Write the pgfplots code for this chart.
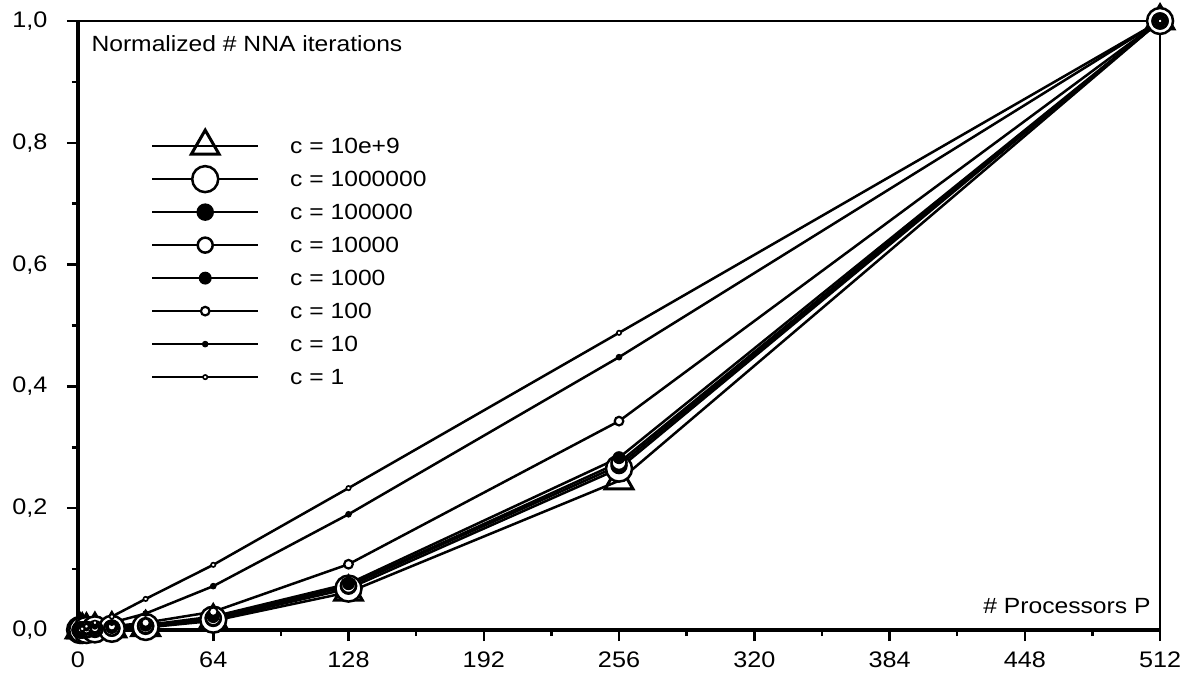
\documentclass[border=0pt]{standalone}
\usepackage{fontspec}
\setmainfont[FakeStretch=1.12]{Liberation Sans}
\usepackage{pgfplots}
\pgfplotsset{compat=1.18}

% normalized NNA iterations per processor count, one column per c
\pgfplotstableread{
P   c9    c6    c5    c4    c3    c2     c1    c0
1   0     0     0     0     0     0      0     0
2   0     0     0     0     0     0.0005 0.001 0.002
4   0     0     0     0.001 0.001 0.001  0.003 0.006
8   0.001 0.001 0.001 0.002 0.002 0.003  0.006 0.012
16  0.002 0.002 0.003 0.003 0.004 0.006  0.012 0.022
32  0.004 0.005 0.006 0.007 0.008 0.012  0.027 0.051
64  0.015 0.017 0.019 0.020 0.022 0.030  0.072 0.107
128 0.062 0.068 0.072 0.073 0.076 0.108  0.190 0.233
256 0.245 0.265 0.270 0.275 0.283 0.343  0.448 0.488
512 1     1     1     1     1     1      1     1
}\nnadata

\begin{document}
\begin{tikzpicture}
\useasboundingbox (-78pt,-47pt) rectangle (1108pt,630pt);
\begin{axis}[
  scale only axis,
  width=1082pt, height=609pt,
  xmin=0, xmax=512, ymin=0, ymax=1,
  clip=false,
  axis x line*=bottom, axis y line*=left,
  axis line style={line width=3.5pt,-},
  xtick={0,64,...,512},
  ytick={0,0.2,...,1.0},
  minor x tick num=1, minor y tick num=1,
  tick align=outside,
  major tick length=11pt, minor tick length=6pt,
  tick style={black,line width=2.5pt},
  tick label style={font=\fontsize{22.5}{26}\selectfont},
  xticklabel style={yshift=-7pt},
  yticklabel style={xshift=-16pt},
  /pgf/number format/assume math mode=true,
  yticklabel={\pgfmathprintnumber[fixed,fixed zerofill,precision=1,use comma]{\tick}},
  xticklabel={\pgfmathprintnumber[fixed,precision=0]{\tick}},
  legend style={at={(axis description cs:0.0684,0.808)},anchor=north west,
    draw=none,fill=none,inner sep=0pt,row sep=17pt,column sep=32pt,
    font=\fontsize{22}{26}\selectfont,
    nodes={inner sep=0pt,text height=15pt,text depth=0pt}},
  legend cell align=left,
  legend image code/.code={
    \path[draw=none,fill=none] (0pt,-8pt) rectangle (106pt,8pt);
    \draw[overlay,mark repeat=2,mark phase=2] plot coordinates {(0pt,0pt) (53pt,0pt) (106pt,0pt)};
  },
  every axis plot/.append style={black,line width=2.5pt},
]
\addplot[mark=triangle,mark size=16pt,mark options={fill=white,line width=3pt}] table[x=P,y=c9] {\nnadata};
\addlegendentry{c = 10e+9}
\addplot[mark=*,mark size=13pt,mark options={fill=white,line width=2.5pt}] table[x=P,y=c6] {\nnadata};
\addlegendentry{c = 1000000}
\addplot[mark=*,mark size=8pt,mark options={fill=black,line width=1.5pt}] table[x=P,y=c5] {\nnadata};
\addlegendentry{c = 100000}
\addplot[mark=*,mark size=7.5pt,mark options={fill=white,line width=2.5pt}] table[x=P,y=c4] {\nnadata};
\addlegendentry{c = 10000}
\addplot[mark=*,mark size=5.7pt,mark options={fill=black,line width=1.5pt}] table[x=P,y=c3] {\nnadata};
\addlegendentry{c = 1000}
\addplot[mark=*,mark size=4.3pt,mark options={fill=white,line width=2.2pt}] table[x=P,y=c2] {\nnadata};
\addlegendentry{c = 100}
\addplot[mark=*,mark size=2.8pt,mark options={fill=black,line width=1pt}] table[x=P,y=c1] {\nnadata};
\addlegendentry{c = 10}
\addplot[mark=*,mark size=2.2pt,mark options={fill=white,line width=1.6pt}] table[x=P,y=c0] {\nnadata};
\addlegendentry{c = 1}
\draw[line width=2.5pt] (rel axis cs:0,1) -- (rel axis cs:1,1) -- (rel axis cs:1,0);
\node[anchor=base west,font=\fontsize{22}{26}\selectfont] at (rel axis cs:0,1) [xshift=10pt,yshift=-30.7pt] {Normalized \# NNA iterations};
\node[anchor=base east,font=\fontsize{22}{26}\selectfont] at (rel axis cs:1,0) [xshift=-6pt,yshift=16pt] {\# Processors P};
\end{axis}
\end{tikzpicture}
\end{document}
